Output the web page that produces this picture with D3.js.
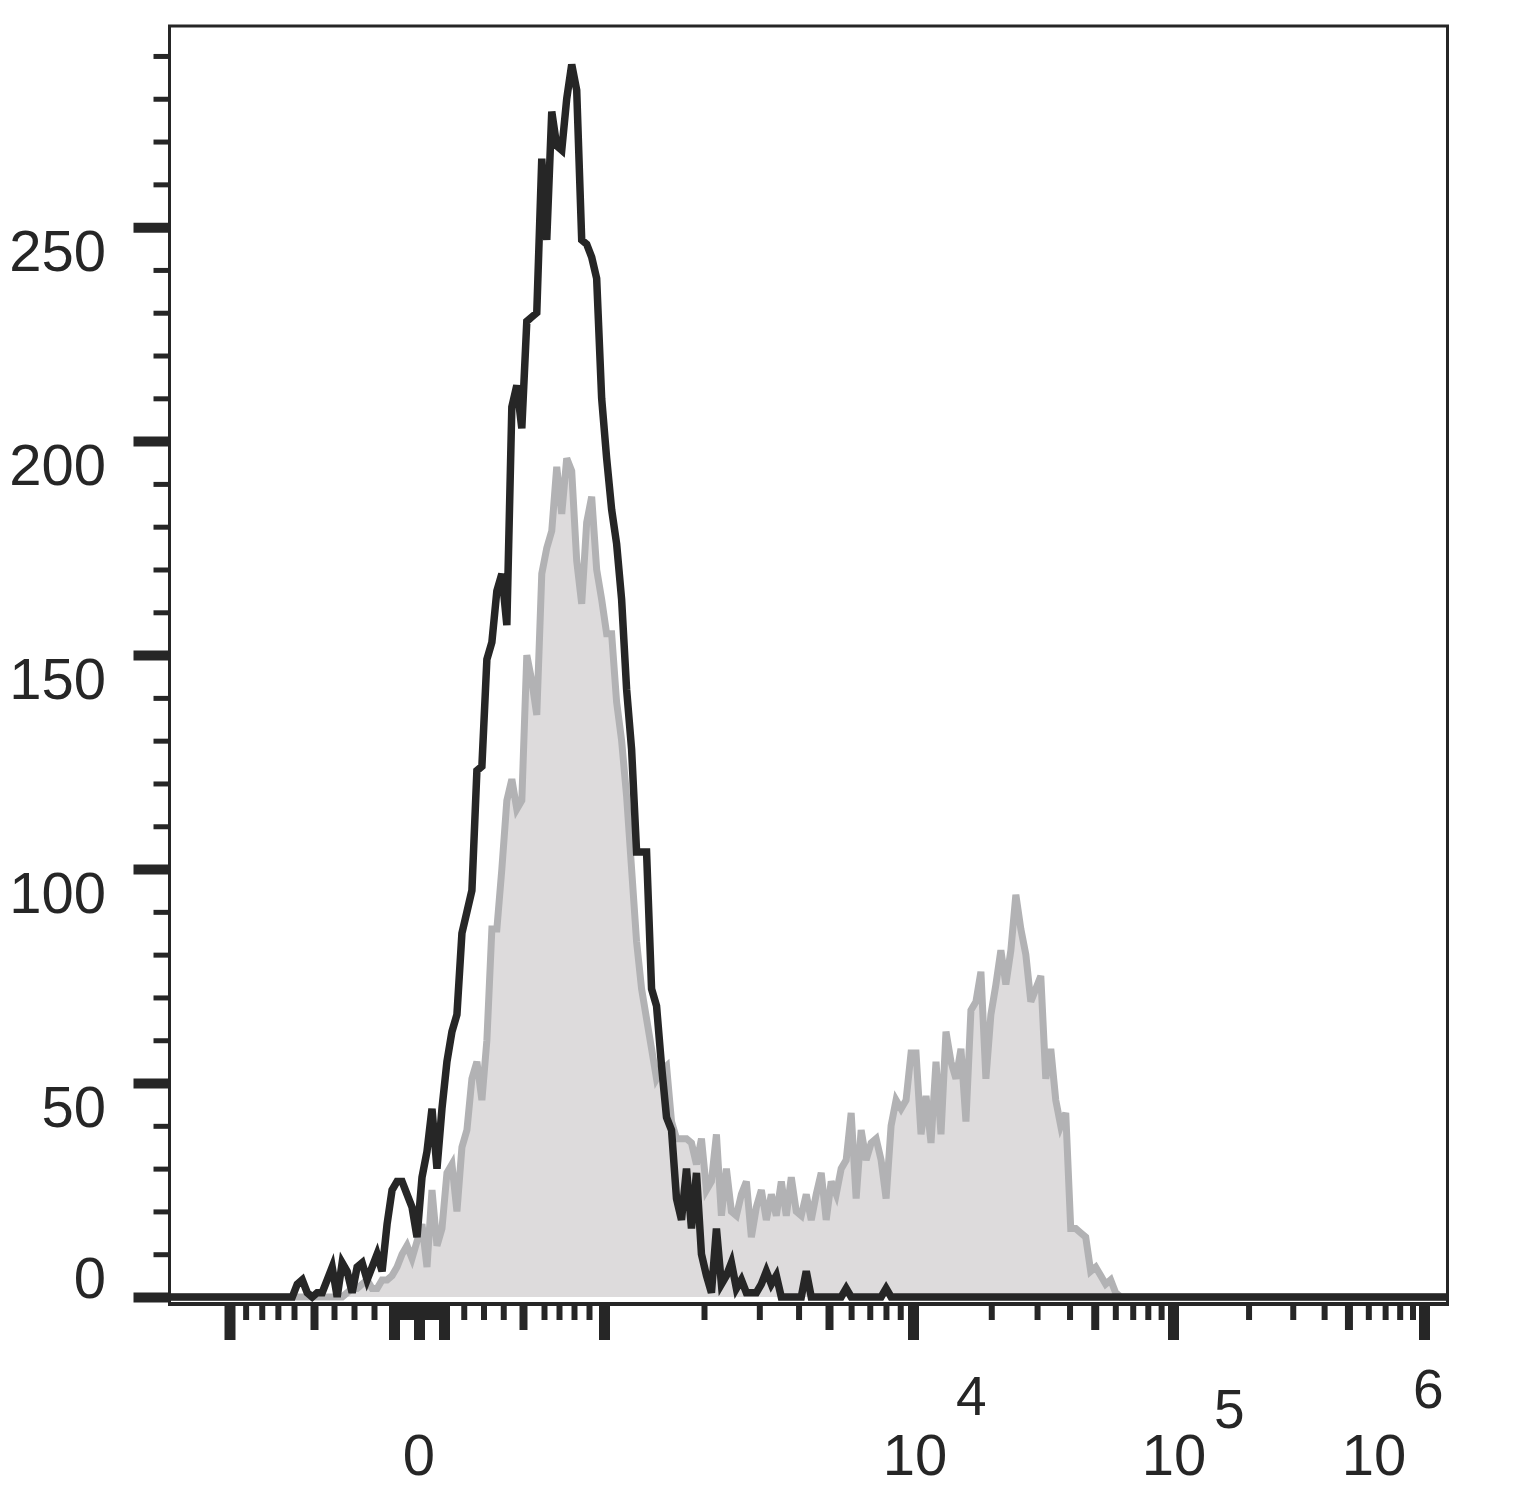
<!DOCTYPE html>
<html><head><meta charset="utf-8">
<script src="https://cdn.jsdelivr.net/npm/d3@7"></script>
<style>
body{margin:0;background:#fff;}
svg{display:block;}
text{font-family:"Liberation Sans",Arial,Helvetica,sans-serif;fill:#262626;}
</style></head><body>
<svg id="c" width="1513" height="1488"></svg>
<script>
// ---------------- DATA ----------------
// histogram counts per channel (256 display channels)
const blackCounts = [
0,0,0,0,0,0,0,0,0,0, 0,0,0,0,0,0,0,0,0,0, 0,0,0,0,0,3,4,1,0,1,
1,4,7,0,8,6,1,7,8,4, 7,10,6,17,25,27,27,24,21,14, 28,34,44,30,44,55,62,66,85,90,
95,123,124,149,153,165,169,157,208,213, 203,228,229,230,266,247,277,269,268,280, 288,282,247,246,243,238,210,196,184,176,
163,142,128,104,104,104,72,68,54,42, 39,23,18,30,16,29,10,5,1,16, 3,5,8,2,4,1,1,1,3,6,
3,5,0,0,0,0,0,6,0,0, 0,0,0,0,0,2,0,0,0,0, 0,0,0,2,0,0,0,0,0,0,
0,0,0,0,0,0,0,0,0,0, 0,0,0,0,0,0,0,0,0,0, 0,0,0,0,0,0,0,0,0,0,
0,0,0,0,0,0,0,0,0,0, 0,0,0,0,0,0,0,0,0,0, 0,0,0,0,0,0,0,0,0,0,
0,0,0,0,0,0,0,0,0,0, 0,0,0,0,0,0,0,0,0,0, 0,0,0,0,0,0,0,0,0,0,
0,0,0,0,0,0,0,0,0,0, 0,0,0,0,0,0
];
const grayCounts = [
0,0,0,0,0,0,0,0,0,0, 0,0,0,0,0,0,0,0,0,0, 0,0,0,0,0,0,0,0,0,0,
0,0,0,0,0,1,2,2,3,4, 2,2,4,4,5,7,10,12,9,13, 17,7,25,12,16,29,31,20,35,39,
51,55,46,60,86,86,100,116,121,114, 116,150,144,136,169,175,179,194,183,196, 193,172,162,181,187,170,163,155,155,139,
130,117,100,83,72,65,58,51,53,54, 41,37,37,37,36,31,37,25,27,38, 19,30,20,19,24,27,14,21,25,18,
24,19,27,19,28,20,19,24,18,24, 29,18,27,24,30,32,43,23,39,32, 36,37,32,23,40,46,44,46,57,57,
38,47,36,55,38,62,55,51,58,41, 67,69,76,51,66,73,81,73,81,94, 86,80,69,72,75,51,58,46,40,43,
16,16,15,14,6,7,5,3,4,1, 0,0,0,0,0,0,0,0,0,0, 0,0,0,0,0,0,0,0,0,0,
0,0,0,0,0,0,0,0,0,0, 0,0,0,0,0,0,0,0,0,0, 0,0,0,0,0,0,0,0,0,0,
0,0,0,0,0,0,0,0,0,0, 0,0,0,0,0,0
];
const nChannels = 256;

const yMajorTicks = [0, 50, 100, 150, 200, 250];
const yMinorTicks = [10,20,30,40,60,70,80,90,110,120,130,140,160,170,180,190,210,220,230,240,260,270,280,290];
const yTickLabels = ["0","50","100","150","200","250"];

const xMajorTicks = [-1000, -100, 0, 100, 1000, 10000, 100000, 1000000];
const xMediumTicks = [-500, 500, 5000, 50000, 500000];
const xMinorTicks = [-900,-800,-700,-600,-400,-300,-200,
  -90,-80,-70,-60,-50,-40,-30,-20,-10,10,20,30,40,50,60,70,80,90,
  200,300,400,600,700,800,900,
  2000,3000,4000,6000,7000,8000,9000,
  20000,30000,40000,60000,70000,80000,90000,
  200000,300000,400000,600000,700000,800000,900000];
const xTickLabels = [
  {v:0, base:"0", exp:""},
  {v:10000, base:"10", exp:"4"},
  {v:100000, base:"10", exp:"5"},
  {v:1000000, base:"10", exp:"6"}
];

// ---------------- LAYOUT ----------------
const L = 169.5, R = 1447.5, T = 26, B = 1304;
const svg = d3.select("#c");

// biexponential-like display transform: linear near zero, log above 1e3
const tf = v => (Math.abs(v) <= 1000 ? v : Math.sign(v) * (1000 + 1000 * Math.log10(Math.abs(v) / 1000)));
const xAnchors = [-1000, -600, -500, -100, 0, 100, 500, 600, 1000, 2000, 5000, 10000, 100000, 1000000];
const xAnchorPx = [229.5, 294, 314, 394, 419, 444, 523, 544, 604, 704, 829, 913, 1173, 1424];
const xs = d3.scaleLinear().domain(xAnchors.map(tf)).range(xAnchorPx);
const x = v => xs(tf(v));

const chan = d3.scaleLinear().domain([0, nChannels]).range([L + 0.5, R]);
const y = d3.scaleLinear().domain([0, 297]).range([1297, T]);

svg.append("defs").append("clipPath").attr("id","clip")
  .append("rect").attr("x", L).attr("y", T).attr("width", R - L).attr("height", B - T);

const g = svg.append("g").attr("clip-path","url(#clip)");

const area = d3.area().x((d,i)=>chan(i+0.5)).y0(y(0)).y1(d=>y(d));
const line = d3.line().x((d,i)=>chan(i+0.5)).y(d=>y(d));

g.append("path").datum(grayCounts).attr("d", area).attr("fill", "#dddbdc");
g.append("path").datum(grayCounts).attr("d", line).attr("fill","none")
  .attr("stroke", "#b2b2b4").attr("stroke-width", 7).attr("stroke-linejoin","miter").attr("stroke-linecap","square");
g.append("path").datum(blackCounts).attr("d", line).attr("fill","none")
  .attr("stroke", "#262626").attr("stroke-width", 7.5).attr("stroke-linejoin","miter").attr("stroke-linecap","square");

// frame
svg.append("rect").attr("x", L).attr("y", T).attr("width", R - L).attr("height", B - T)
  .attr("fill","none").attr("stroke","#262626").attr("stroke-width", 3);
svg.append("line").attr("x1", L - 1.5).attr("x2", R + 1.5).attr("y1", B).attr("y2", B)
  .attr("stroke","#262626").attr("stroke-width", 4);

// x axis ticks (three lengths)
function xAxisLayer(vals, len, w) {
  const ax = d3.axisBottom(xs).tickValues(vals.map(tf)).tickSizeInner(len).tickSizeOuter(0).tickFormat("");
  const gg = svg.append("g").attr("transform", `translate(0,${B + 2})`).call(ax);
  gg.select(".domain").remove();
  gg.selectAll(".tick line").attr("stroke","#262626").attr("stroke-width", w);
}
xAxisLayer(xMinorTicks, 14, 6);
xAxisLayer(xMediumTicks, 24, 8);
xAxisLayer(xMajorTicks, 34, 11);

// y axis ticks
function yAxisLayer(vals, len, w) {
  const ax = d3.axisLeft(y).tickValues(vals).tickSizeInner(len).tickSizeOuter(0).tickFormat("");
  const gg = svg.append("g").attr("transform", `translate(${L - 1},0)`).call(ax);
  gg.select(".domain").remove();
  gg.selectAll(".tick line").attr("stroke","#262626").attr("stroke-width", w);
}
yAxisLayer(yMinorTicks, 15, 5);
yAxisLayer(yMajorTicks, 35, 10);

// y labels
svg.append("g").selectAll("text").data(yMajorTicks).join("text")
  .attr("x", 106).attr("y", (d) => d === 0 ? y(d) + 1 : y(d) + 44)
  .attr("text-anchor","end").attr("font-size", 58)
  .text((d,i)=>yTickLabels[i]);

// x labels
const labOffsets = {0:{dx:0, sdx:0, sy:0}, 10000:{dx:2, sdx:43, sy:1415}, 100000:{dx:1, sdx:41, sy:1428}, 1000000:{dx:-50, sdx:-11, sy:1408}};
const xl = svg.append("g");
xTickLabels.forEach(l => {
  const o = labOffsets[l.v];
  xl.append("text").attr("x", x(l.v) + o.dx).attr("y", 1475).attr("text-anchor","middle")
    .attr("font-size", 58).text(l.base);
  if (l.exp) {
    xl.append("text").attr("x", x(l.v) + o.sdx).attr("y", o.sy).attr("text-anchor","start")
      .attr("font-size", 55).text(l.exp);
  }
});
</script>
</body></html>
